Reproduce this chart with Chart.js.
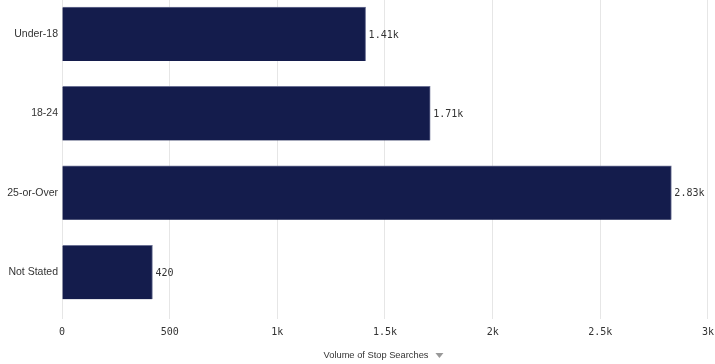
<!DOCTYPE html>
<html>
<head>
<meta charset="utf-8">
<script src="https://cdn.jsdelivr.net/npm/chart.js@4/dist/chart.umd.min.js"></script>
<style>
  html, body { margin: 0; padding: 0; background: #fff; }
  #wrap { width: 715px; height: 364px; position: relative; overflow: hidden; }
  #box { position: absolute; left: 0; top: -16px; width: 721px; height: 380px; }
</style>
</head>
<body>
<div id="wrap"><div id="box"><canvas id="myChart"></canvas></div></div>
<script>
// chart data
const categories = ['Under-18', '18-24', '25-or-Over', 'Not Stated'];
const searches = [1410, 1710, 2830, 420];
const tickValues = [0, 500, 1000, 1500, 2000, 2500, 3000];
const axisTitle = 'Volume of Stop Searches';

function shortNum(v) {
  if (v >= 1000) {
    let s = (v / 1000).toFixed(2).replace(/\.?0+$/, '');
    return s + 'k';
  }
  return String(v);
}

// draws the value at the end of each bar, plus the axis title with its sort arrow
const endLabels = {
  id: 'endLabels',
  afterDraw(chart) {
    const ctx = chart.ctx;
    const meta = chart.getDatasetMeta(0);
    ctx.save();
    ctx.font = '10px "DejaVu Sans Mono"';
    ctx.fillStyle = '#333';
    ctx.textBaseline = 'middle';
    meta.data.forEach(function(bar, i) {
      ctx.fillText(shortNum(searches[i]), bar.x + 3, bar.y + 1);
    });

    // title + little grey arrow, centred together
    const xs = chart.scales.x;
    ctx.font = '9.3px "Liberation Sans"';
    const w = ctx.measureText(axisTitle).width;
    const mid = (xs.left + xs.right) / 2 - 9;
    const cy = chart.height - 9;
    ctx.fillStyle = '#333';
    ctx.textAlign = 'center';
    ctx.fillText(axisTitle, mid, cy);
    const cx = mid + w / 2 + 11;
    ctx.fillStyle = '#999';
    ctx.beginPath();
    ctx.moveTo(cx - 4, cy - 2);
    ctx.lineTo(cx + 4, cy - 2);
    ctx.lineTo(cx, cy + 3);
    ctx.closePath();
    ctx.fill();
    ctx.restore();
  }
};

let config = {
  type: 'bar',
  data: {
    labels: categories,
    datasets: [{
      label: axisTitle,
      data: searches,
      backgroundColor: '#141c4c',
      borderColor: '#6b7194',
      borderWidth: { top: 1, right: 1, bottom: 0, left: 0 },
      barThickness: 54
    }]
  },
  options: {
    indexAxis: 'y',
    responsive: true,
    maintainAspectRatio: false,
    animation: false,
    layout: { padding: 0 },
    plugins: {
      legend: { display: false },
      tooltip: { enabled: false }
    },
    scales: {
      x: {
        min: 0,
        max: 3000,
        afterBuildTicks(axis) {
          axis.ticks = tickValues.map(v => ({ value: v }));
        },
        grid: {
          color: '#e6e6e6',
          drawTicks: true,
          tickLength: 7
        },
        border: { display: false },
        ticks: {
          font: { family: '"DejaVu Sans Mono"', size: 10 },
          color: '#333',
          padding: 7,
          maxRotation: 0,
          callback: v => shortNum(v)
        },
        // space is kept here, the text itself is drawn by the plugin
        title: {
          display: true,
          text: axisTitle,
          font: { family: '"Liberation Sans"', size: 10 },
          color: 'rgba(0,0,0,0)',
          padding: { top: 4, bottom: 3 }
        }
      },
      y: {
        afterFit(axis) {
          axis.width = 62;
        },
        grid: { display: false, drawTicks: false },
        border: { display: true, color: '#e6e6e6' },
        ticks: {
          font: { family: '"Liberation Sans"', size: 10.5 },
          color: '#333',
          padding: 4
        }
      }
    }
  },
  plugins: [endLabels]
};

let ctx = document.getElementById('myChart');
let myChart = new Chart(ctx, config);
</script>
</body>
</html>
